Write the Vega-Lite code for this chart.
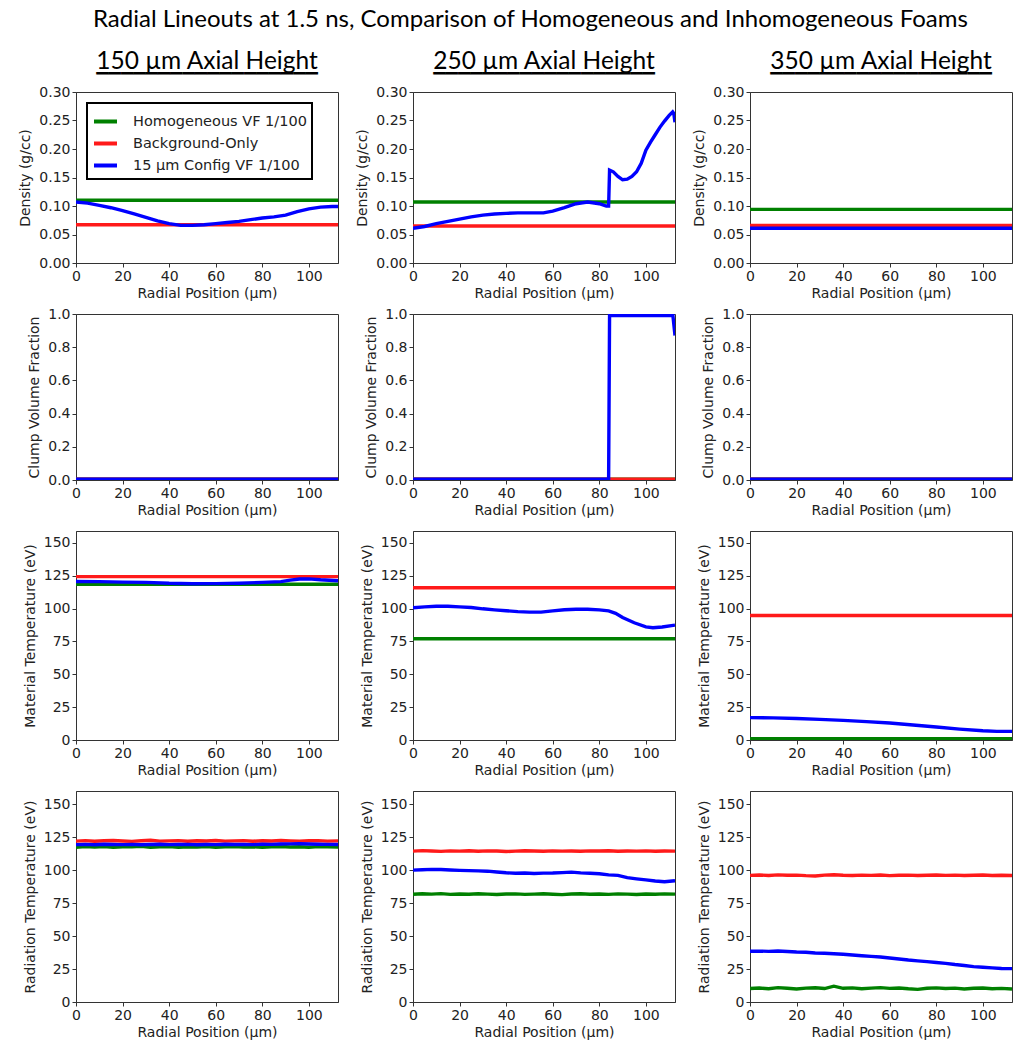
{
"$schema": "https://vega.github.io/schema/vega-lite/v6.json",
"background": "white",
"padding": {"left": 18, "top": 8, "right": 5, "bottom": 4},
"title": {"text": "Radial Lineouts at 1.5 ns, Comparison of Homogeneous and Inhomogeneous Foams", "font": "Lato", "fontSize": 24, "fontWeight": "normal", "color": "black", "anchor": "middle", "dx": 15, "offset": 16},
"data": {"values": [
{"h":150,"q":"rho","s":"G","x":0,"y":0.110},{"h":150,"q":"rho","s":"G","x":112.5,"y":0.110},
{"h":150,"q":"rho","s":"R","x":0,"y":0.067},{"h":150,"q":"rho","s":"R","x":112.5,"y":0.067},
{"h":150,"q":"rho","s":"B","x":0,"y":0.107},{"h":150,"q":"rho","s":"B","x":5,"y":0.105},{"h":150,"q":"rho","s":"B","x":10,"y":0.101},{"h":150,"q":"rho","s":"B","x":15,"y":0.097},{"h":150,"q":"rho","s":"B","x":20,"y":0.092},{"h":150,"q":"rho","s":"B","x":25,"y":0.086},{"h":150,"q":"rho","s":"B","x":30,"y":0.080},{"h":150,"q":"rho","s":"B","x":35,"y":0.074},{"h":150,"q":"rho","s":"B","x":40,"y":0.069},{"h":150,"q":"rho","s":"B","x":45,"y":0.066},{"h":150,"q":"rho","s":"B","x":50,"y":0.066},{"h":150,"q":"rho","s":"B","x":55,"y":0.067},{"h":150,"q":"rho","s":"B","x":60,"y":0.069},{"h":150,"q":"rho","s":"B","x":65,"y":0.071},{"h":150,"q":"rho","s":"B","x":70,"y":0.073},{"h":150,"q":"rho","s":"B","x":75,"y":0.076},{"h":150,"q":"rho","s":"B","x":80,"y":0.079},{"h":150,"q":"rho","s":"B","x":85,"y":0.081},{"h":150,"q":"rho","s":"B","x":90,"y":0.084},{"h":150,"q":"rho","s":"B","x":95,"y":0.090},{"h":150,"q":"rho","s":"B","x":100,"y":0.095},{"h":150,"q":"rho","s":"B","x":105,"y":0.098},{"h":150,"q":"rho","s":"B","x":110,"y":0.099},{"h":150,"q":"rho","s":"B","x":112.5,"y":0.099},

{"h":250,"q":"rho","s":"G","x":0,"y":0.107},{"h":250,"q":"rho","s":"G","x":112.5,"y":0.107},
{"h":250,"q":"rho","s":"R","x":0,"y":0.065},{"h":250,"q":"rho","s":"R","x":112.5,"y":0.065},
{"h":250,"q":"rho","s":"B","x":0,"y":0.061},{"h":250,"q":"rho","s":"B","x":5,"y":0.064},{"h":250,"q":"rho","s":"B","x":10,"y":0.069},{"h":250,"q":"rho","s":"B","x":15,"y":0.073},{"h":250,"q":"rho","s":"B","x":20,"y":0.077},{"h":250,"q":"rho","s":"B","x":25,"y":0.081},{"h":250,"q":"rho","s":"B","x":30,"y":0.084},{"h":250,"q":"rho","s":"B","x":35,"y":0.086},{"h":250,"q":"rho","s":"B","x":40,"y":0.087},{"h":250,"q":"rho","s":"B","x":45,"y":0.088},{"h":250,"q":"rho","s":"B","x":50,"y":0.088},{"h":250,"q":"rho","s":"B","x":56,"y":0.088},{"h":250,"q":"rho","s":"B","x":60,"y":0.091},{"h":250,"q":"rho","s":"B","x":65,"y":0.097},{"h":250,"q":"rho","s":"B","x":70,"y":0.104},{"h":250,"q":"rho","s":"B","x":75,"y":0.107},{"h":250,"q":"rho","s":"B","x":80,"y":0.104},{"h":250,"q":"rho","s":"B","x":83,"y":0.100},{"h":250,"q":"rho","s":"B","x":84,"y":0.100},{"h":250,"q":"rho","s":"B","x":84.4,"y":0.163},{"h":250,"q":"rho","s":"B","x":86,"y":0.160},{"h":250,"q":"rho","s":"B","x":88,"y":0.152},{"h":250,"q":"rho","s":"B","x":90,"y":0.146},{"h":250,"q":"rho","s":"B","x":92,"y":0.147},{"h":250,"q":"rho","s":"B","x":94,"y":0.152},{"h":250,"q":"rho","s":"B","x":96,"y":0.160},{"h":250,"q":"rho","s":"B","x":98,"y":0.175},{"h":250,"q":"rho","s":"B","x":100,"y":0.198},{"h":250,"q":"rho","s":"B","x":102,"y":0.212},{"h":250,"q":"rho","s":"B","x":104,"y":0.225},{"h":250,"q":"rho","s":"B","x":106,"y":0.238},{"h":250,"q":"rho","s":"B","x":108,"y":0.249},{"h":250,"q":"rho","s":"B","x":110,"y":0.259},{"h":250,"q":"rho","s":"B","x":111.5,"y":0.265},{"h":250,"q":"rho","s":"B","x":112,"y":0.262},{"h":250,"q":"rho","s":"B","x":112.5,"y":0.247},

{"h":350,"q":"rho","s":"G","x":0,"y":0.094},{"h":350,"q":"rho","s":"G","x":112.5,"y":0.094},
{"h":350,"q":"rho","s":"R","x":0,"y":0.066},{"h":350,"q":"rho","s":"R","x":112.5,"y":0.066},
{"h":350,"q":"rho","s":"B","x":0,"y":0.061},{"h":350,"q":"rho","s":"B","x":112.5,"y":0.061},

{"h":150,"q":"cvf","s":"G","x":0,"y":0.005},{"h":150,"q":"cvf","s":"G","x":112.5,"y":0.005},
{"h":150,"q":"cvf","s":"R","x":0,"y":0.005},{"h":150,"q":"cvf","s":"R","x":112.5,"y":0.005},
{"h":150,"q":"cvf","s":"B","x":0,"y":0.005},{"h":150,"q":"cvf","s":"B","x":112.5,"y":0.005},
{"h":250,"q":"cvf","s":"G","x":0,"y":0.005},{"h":250,"q":"cvf","s":"G","x":112.5,"y":0.005},
{"h":250,"q":"cvf","s":"R","x":0,"y":0.005},{"h":250,"q":"cvf","s":"R","x":112.5,"y":0.005},
{"h":250,"q":"cvf","s":"B","x":0,"y":0.005},{"h":250,"q":"cvf","s":"B","x":84,"y":0.005},{"h":250,"q":"cvf","s":"B","x":84.4,"y":0.99},{"h":250,"q":"cvf","s":"B","x":111.6,"y":0.99},{"h":250,"q":"cvf","s":"B","x":112.5,"y":0.87},
{"h":350,"q":"cvf","s":"G","x":0,"y":0.005},{"h":350,"q":"cvf","s":"G","x":112.5,"y":0.005},
{"h":350,"q":"cvf","s":"R","x":0,"y":0.005},{"h":350,"q":"cvf","s":"R","x":112.5,"y":0.005},
{"h":350,"q":"cvf","s":"B","x":0,"y":0.005},{"h":350,"q":"cvf","s":"B","x":112.5,"y":0.005},

{"h":150,"q":"tm","s":"G","x":0,"y":118.5},{"h":150,"q":"tm","s":"G","x":112.5,"y":118.5},
{"h":150,"q":"tm","s":"R","x":0,"y":124.3},{"h":150,"q":"tm","s":"R","x":112.5,"y":124.3},
{"h":150,"q":"tm","s":"B","x":0,"y":120.6},{"h":150,"q":"tm","s":"B","x":10,"y":120.5},{"h":150,"q":"tm","s":"B","x":20,"y":120.1},{"h":150,"q":"tm","s":"B","x":30,"y":119.9},{"h":150,"q":"tm","s":"B","x":40,"y":119.2},{"h":150,"q":"tm","s":"B","x":50,"y":118.9},{"h":150,"q":"tm","s":"B","x":60,"y":119.0},{"h":150,"q":"tm","s":"B","x":70,"y":119.3},{"h":150,"q":"tm","s":"B","x":80,"y":119.9},{"h":150,"q":"tm","s":"B","x":88,"y":120.5},{"h":150,"q":"tm","s":"B","x":92,"y":121.6},{"h":150,"q":"tm","s":"B","x":96,"y":122.5},{"h":150,"q":"tm","s":"B","x":100,"y":122.6},{"h":150,"q":"tm","s":"B","x":105,"y":121.9},{"h":150,"q":"tm","s":"B","x":112.5,"y":121.2},

{"h":250,"q":"tm","s":"G","x":0,"y":77},{"h":250,"q":"tm","s":"G","x":112.5,"y":77},
{"h":250,"q":"tm","s":"R","x":0,"y":115.8},{"h":250,"q":"tm","s":"R","x":112.5,"y":115.8},
{"h":250,"q":"tm","s":"B","x":0,"y":100.6},{"h":250,"q":"tm","s":"B","x":5,"y":101.3},{"h":250,"q":"tm","s":"B","x":10,"y":101.8},{"h":250,"q":"tm","s":"B","x":15,"y":101.7},{"h":250,"q":"tm","s":"B","x":20,"y":101.3},{"h":250,"q":"tm","s":"B","x":25,"y":100.8},{"h":250,"q":"tm","s":"B","x":30,"y":99.8},{"h":250,"q":"tm","s":"B","x":35,"y":99.0},{"h":250,"q":"tm","s":"B","x":40,"y":98.3},{"h":250,"q":"tm","s":"B","x":45,"y":97.7},{"h":250,"q":"tm","s":"B","x":50,"y":97.3},{"h":250,"q":"tm","s":"B","x":55,"y":97.3},{"h":250,"q":"tm","s":"B","x":60,"y":98.2},{"h":250,"q":"tm","s":"B","x":65,"y":99.1},{"h":250,"q":"tm","s":"B","x":70,"y":99.5},{"h":250,"q":"tm","s":"B","x":75,"y":99.5},{"h":250,"q":"tm","s":"B","x":80,"y":99.0},{"h":250,"q":"tm","s":"B","x":84,"y":98.2},{"h":250,"q":"tm","s":"B","x":87,"y":96.4},{"h":250,"q":"tm","s":"B","x":90,"y":93.2},{"h":250,"q":"tm","s":"B","x":95,"y":89.2},{"h":250,"q":"tm","s":"B","x":100,"y":86.1},{"h":250,"q":"tm","s":"B","x":103,"y":85.4},{"h":250,"q":"tm","s":"B","x":107,"y":86.0},{"h":250,"q":"tm","s":"B","x":112.5,"y":87.4},

{"h":350,"q":"tm","s":"G","x":0,"y":1},{"h":350,"q":"tm","s":"G","x":112.5,"y":1},
{"h":350,"q":"tm","s":"R","x":0,"y":94.7},{"h":350,"q":"tm","s":"R","x":112.5,"y":94.7},
{"h":350,"q":"tm","s":"B","x":0,"y":17.0},{"h":350,"q":"tm","s":"B","x":10,"y":16.8},{"h":350,"q":"tm","s":"B","x":20,"y":16.3},{"h":350,"q":"tm","s":"B","x":30,"y":15.7},{"h":350,"q":"tm","s":"B","x":40,"y":14.9},{"h":350,"q":"tm","s":"B","x":50,"y":14.0},{"h":350,"q":"tm","s":"B","x":60,"y":12.9},{"h":350,"q":"tm","s":"B","x":70,"y":11.4},{"h":350,"q":"tm","s":"B","x":80,"y":9.9},{"h":350,"q":"tm","s":"B","x":90,"y":8.3},{"h":350,"q":"tm","s":"B","x":100,"y":7.0},{"h":350,"q":"tm","s":"B","x":106,"y":6.6},{"h":350,"q":"tm","s":"B","x":112.5,"y":6.6},

{"h":150,"q":"tr","s":"G","x":0,"y":117.4},{"h":150,"q":"tr","s":"G","x":4,"y":117.8},{"h":150,"q":"tr","s":"G","x":8,"y":117.5},{"h":150,"q":"tr","s":"G","x":12,"y":117.9},{"h":150,"q":"tr","s":"G","x":16,"y":117.3},{"h":150,"q":"tr","s":"G","x":20,"y":117.7},{"h":150,"q":"tr","s":"G","x":24,"y":117.6},{"h":150,"q":"tr","s":"G","x":28,"y":118.0},{"h":150,"q":"tr","s":"G","x":32,"y":117.4},{"h":150,"q":"tr","s":"G","x":36,"y":117.6},{"h":150,"q":"tr","s":"G","x":40,"y":117.8},{"h":150,"q":"tr","s":"G","x":44,"y":117.3},{"h":150,"q":"tr","s":"G","x":48,"y":117.7},{"h":150,"q":"tr","s":"G","x":52,"y":117.5},{"h":150,"q":"tr","s":"G","x":56,"y":117.9},{"h":150,"q":"tr","s":"G","x":60,"y":117.4},{"h":150,"q":"tr","s":"G","x":64,"y":117.6},{"h":150,"q":"tr","s":"G","x":68,"y":117.8},{"h":150,"q":"tr","s":"G","x":72,"y":117.5},{"h":150,"q":"tr","s":"G","x":76,"y":117.7},{"h":150,"q":"tr","s":"G","x":80,"y":117.3},{"h":150,"q":"tr","s":"G","x":84,"y":117.6},{"h":150,"q":"tr","s":"G","x":88,"y":117.9},{"h":150,"q":"tr","s":"G","x":92,"y":117.5},{"h":150,"q":"tr","s":"G","x":96,"y":117.7},{"h":150,"q":"tr","s":"G","x":100,"y":117.4},{"h":150,"q":"tr","s":"G","x":104,"y":117.8},{"h":150,"q":"tr","s":"G","x":108,"y":117.6},{"h":150,"q":"tr","s":"G","x":112.5,"y":117.5},
{"h":150,"q":"tr","s":"R","x":0,"y":122.0},{"h":150,"q":"tr","s":"R","x":4,"y":122.4},{"h":150,"q":"tr","s":"R","x":8,"y":121.9},{"h":150,"q":"tr","s":"R","x":12,"y":122.3},{"h":150,"q":"tr","s":"R","x":16,"y":122.5},{"h":150,"q":"tr","s":"R","x":20,"y":122.1},{"h":150,"q":"tr","s":"R","x":24,"y":121.8},{"h":150,"q":"tr","s":"R","x":28,"y":122.3},{"h":150,"q":"tr","s":"R","x":32,"y":122.6},{"h":150,"q":"tr","s":"R","x":36,"y":122.0},{"h":150,"q":"tr","s":"R","x":40,"y":122.2},{"h":150,"q":"tr","s":"R","x":44,"y":122.4},{"h":150,"q":"tr","s":"R","x":48,"y":121.9},{"h":150,"q":"tr","s":"R","x":52,"y":122.3},{"h":150,"q":"tr","s":"R","x":56,"y":122.1},{"h":150,"q":"tr","s":"R","x":60,"y":122.5},{"h":150,"q":"tr","s":"R","x":64,"y":122.0},{"h":150,"q":"tr","s":"R","x":68,"y":122.2},{"h":150,"q":"tr","s":"R","x":72,"y":122.4},{"h":150,"q":"tr","s":"R","x":76,"y":121.9},{"h":150,"q":"tr","s":"R","x":80,"y":122.3},{"h":150,"q":"tr","s":"R","x":84,"y":122.1},{"h":150,"q":"tr","s":"R","x":88,"y":122.5},{"h":150,"q":"tr","s":"R","x":92,"y":122.2},{"h":150,"q":"tr","s":"R","x":96,"y":121.9},{"h":150,"q":"tr","s":"R","x":100,"y":122.3},{"h":150,"q":"tr","s":"R","x":104,"y":122.4},{"h":150,"q":"tr","s":"R","x":108,"y":122.0},{"h":150,"q":"tr","s":"R","x":112.5,"y":122.2},
{"h":150,"q":"tr","s":"B","x":0,"y":119.3},{"h":150,"q":"tr","s":"B","x":4,"y":119.5},{"h":150,"q":"tr","s":"B","x":8,"y":119.2},{"h":150,"q":"tr","s":"B","x":12,"y":119.6},{"h":150,"q":"tr","s":"B","x":16,"y":119.4},{"h":150,"q":"tr","s":"B","x":20,"y":119.3},{"h":150,"q":"tr","s":"B","x":24,"y":119.5},{"h":150,"q":"tr","s":"B","x":28,"y":119.2},{"h":150,"q":"tr","s":"B","x":32,"y":119.4},{"h":150,"q":"tr","s":"B","x":36,"y":119.6},{"h":150,"q":"tr","s":"B","x":40,"y":119.3},{"h":150,"q":"tr","s":"B","x":44,"y":119.4},{"h":150,"q":"tr","s":"B","x":48,"y":119.5},{"h":150,"q":"tr","s":"B","x":52,"y":119.2},{"h":150,"q":"tr","s":"B","x":56,"y":119.4},{"h":150,"q":"tr","s":"B","x":60,"y":119.3},{"h":150,"q":"tr","s":"B","x":64,"y":119.6},{"h":150,"q":"tr","s":"B","x":68,"y":119.4},{"h":150,"q":"tr","s":"B","x":72,"y":119.5},{"h":150,"q":"tr","s":"B","x":76,"y":119.3},{"h":150,"q":"tr","s":"B","x":80,"y":119.6},{"h":150,"q":"tr","s":"B","x":84,"y":119.5},{"h":150,"q":"tr","s":"B","x":88,"y":119.8},{"h":150,"q":"tr","s":"B","x":92,"y":119.9},{"h":150,"q":"tr","s":"B","x":96,"y":120.0},{"h":150,"q":"tr","s":"B","x":100,"y":119.8},{"h":150,"q":"tr","s":"B","x":104,"y":119.6},{"h":150,"q":"tr","s":"B","x":108,"y":119.5},{"h":150,"q":"tr","s":"B","x":112.5,"y":119.4},

{"h":250,"q":"tr","s":"G","x":0,"y":81.7},{"h":250,"q":"tr","s":"G","x":4,"y":82.1},{"h":250,"q":"tr","s":"G","x":8,"y":81.8},{"h":250,"q":"tr","s":"G","x":12,"y":82.2},{"h":250,"q":"tr","s":"G","x":16,"y":81.6},{"h":250,"q":"tr","s":"G","x":20,"y":81.9},{"h":250,"q":"tr","s":"G","x":24,"y":81.7},{"h":250,"q":"tr","s":"G","x":28,"y":82.1},{"h":250,"q":"tr","s":"G","x":32,"y":81.8},{"h":250,"q":"tr","s":"G","x":36,"y":81.5},{"h":250,"q":"tr","s":"G","x":40,"y":81.9},{"h":250,"q":"tr","s":"G","x":44,"y":82.0},{"h":250,"q":"tr","s":"G","x":48,"y":81.6},{"h":250,"q":"tr","s":"G","x":52,"y":81.8},{"h":250,"q":"tr","s":"G","x":56,"y":82.1},{"h":250,"q":"tr","s":"G","x":60,"y":81.7},{"h":250,"q":"tr","s":"G","x":64,"y":81.4},{"h":250,"q":"tr","s":"G","x":68,"y":81.9},{"h":250,"q":"tr","s":"G","x":72,"y":82.1},{"h":250,"q":"tr","s":"G","x":76,"y":81.7},{"h":250,"q":"tr","s":"G","x":80,"y":81.9},{"h":250,"q":"tr","s":"G","x":84,"y":81.6},{"h":250,"q":"tr","s":"G","x":88,"y":82.0},{"h":250,"q":"tr","s":"G","x":92,"y":81.8},{"h":250,"q":"tr","s":"G","x":96,"y":81.5},{"h":250,"q":"tr","s":"G","x":100,"y":81.9},{"h":250,"q":"tr","s":"G","x":104,"y":81.7},{"h":250,"q":"tr","s":"G","x":108,"y":82.0},{"h":250,"q":"tr","s":"G","x":112.5,"y":81.8},
{"h":250,"q":"tr","s":"R","x":0,"y":114.4},{"h":250,"q":"tr","s":"R","x":4,"y":114.8},{"h":250,"q":"tr","s":"R","x":8,"y":114.5},{"h":250,"q":"tr","s":"R","x":12,"y":114.2},{"h":250,"q":"tr","s":"R","x":16,"y":114.6},{"h":250,"q":"tr","s":"R","x":20,"y":114.4},{"h":250,"q":"tr","s":"R","x":24,"y":114.7},{"h":250,"q":"tr","s":"R","x":28,"y":114.3},{"h":250,"q":"tr","s":"R","x":32,"y":114.6},{"h":250,"q":"tr","s":"R","x":36,"y":114.5},{"h":250,"q":"tr","s":"R","x":40,"y":114.1},{"h":250,"q":"tr","s":"R","x":44,"y":114.4},{"h":250,"q":"tr","s":"R","x":48,"y":114.7},{"h":250,"q":"tr","s":"R","x":52,"y":114.5},{"h":250,"q":"tr","s":"R","x":56,"y":114.3},{"h":250,"q":"tr","s":"R","x":60,"y":114.6},{"h":250,"q":"tr","s":"R","x":64,"y":114.4},{"h":250,"q":"tr","s":"R","x":68,"y":114.5},{"h":250,"q":"tr","s":"R","x":72,"y":114.3},{"h":250,"q":"tr","s":"R","x":76,"y":114.6},{"h":250,"q":"tr","s":"R","x":80,"y":114.5},{"h":250,"q":"tr","s":"R","x":84,"y":114.7},{"h":250,"q":"tr","s":"R","x":88,"y":114.3},{"h":250,"q":"tr","s":"R","x":92,"y":114.5},{"h":250,"q":"tr","s":"R","x":96,"y":114.4},{"h":250,"q":"tr","s":"R","x":100,"y":114.6},{"h":250,"q":"tr","s":"R","x":104,"y":114.3},{"h":250,"q":"tr","s":"R","x":108,"y":114.5},{"h":250,"q":"tr","s":"R","x":112.5,"y":114.4},
{"h":250,"q":"tr","s":"B","x":0,"y":100.0},{"h":250,"q":"tr","s":"B","x":4,"y":100.3},{"h":250,"q":"tr","s":"B","x":8,"y":100.6},{"h":250,"q":"tr","s":"B","x":12,"y":100.5},{"h":250,"q":"tr","s":"B","x":16,"y":100.1},{"h":250,"q":"tr","s":"B","x":20,"y":99.8},{"h":250,"q":"tr","s":"B","x":24,"y":99.6},{"h":250,"q":"tr","s":"B","x":28,"y":99.4},{"h":250,"q":"tr","s":"B","x":32,"y":99.2},{"h":250,"q":"tr","s":"B","x":36,"y":98.6},{"h":250,"q":"tr","s":"B","x":40,"y":98.0},{"h":250,"q":"tr","s":"B","x":44,"y":97.6},{"h":250,"q":"tr","s":"B","x":48,"y":97.8},{"h":250,"q":"tr","s":"B","x":52,"y":97.4},{"h":250,"q":"tr","s":"B","x":56,"y":97.7},{"h":250,"q":"tr","s":"B","x":60,"y":97.8},{"h":250,"q":"tr","s":"B","x":64,"y":98.1},{"h":250,"q":"tr","s":"B","x":68,"y":98.5},{"h":250,"q":"tr","s":"B","x":72,"y":97.9},{"h":250,"q":"tr","s":"B","x":76,"y":97.6},{"h":250,"q":"tr","s":"B","x":80,"y":97.2},{"h":250,"q":"tr","s":"B","x":84,"y":96.4},{"h":250,"q":"tr","s":"B","x":88,"y":96.0},{"h":250,"q":"tr","s":"B","x":92,"y":94.3},{"h":250,"q":"tr","s":"B","x":96,"y":93.4},{"h":250,"q":"tr","s":"B","x":100,"y":92.6},{"h":250,"q":"tr","s":"B","x":104,"y":91.8},{"h":250,"q":"tr","s":"B","x":108,"y":91.2},{"h":250,"q":"tr","s":"B","x":112.5,"y":92.0},

{"h":350,"q":"tr","s":"G","x":0,"y":10.2},{"h":350,"q":"tr","s":"G","x":4,"y":10.6},{"h":350,"q":"tr","s":"G","x":8,"y":10.1},{"h":350,"q":"tr","s":"G","x":12,"y":10.9},{"h":350,"q":"tr","s":"G","x":16,"y":10.4},{"h":350,"q":"tr","s":"G","x":20,"y":9.9},{"h":350,"q":"tr","s":"G","x":24,"y":10.5},{"h":350,"q":"tr","s":"G","x":28,"y":10.8},{"h":350,"q":"tr","s":"G","x":32,"y":10.2},{"h":350,"q":"tr","s":"G","x":36,"y":12.0},{"h":350,"q":"tr","s":"G","x":40,"y":10.4},{"h":350,"q":"tr","s":"G","x":44,"y":10.7},{"h":350,"q":"tr","s":"G","x":48,"y":10.1},{"h":350,"q":"tr","s":"G","x":52,"y":10.5},{"h":350,"q":"tr","s":"G","x":56,"y":10.9},{"h":350,"q":"tr","s":"G","x":60,"y":10.3},{"h":350,"q":"tr","s":"G","x":64,"y":10.6},{"h":350,"q":"tr","s":"G","x":68,"y":10.0},{"h":350,"q":"tr","s":"G","x":72,"y":9.6},{"h":350,"q":"tr","s":"G","x":76,"y":10.4},{"h":350,"q":"tr","s":"G","x":80,"y":10.7},{"h":350,"q":"tr","s":"G","x":84,"y":10.2},{"h":350,"q":"tr","s":"G","x":88,"y":10.5},{"h":350,"q":"tr","s":"G","x":92,"y":9.9},{"h":350,"q":"tr","s":"G","x":96,"y":10.4},{"h":350,"q":"tr","s":"G","x":100,"y":10.6},{"h":350,"q":"tr","s":"G","x":104,"y":10.1},{"h":350,"q":"tr","s":"G","x":108,"y":10.3},{"h":350,"q":"tr","s":"G","x":112.5,"y":9.8},
{"h":350,"q":"tr","s":"R","x":0,"y":96.0},{"h":350,"q":"tr","s":"R","x":4,"y":96.3},{"h":350,"q":"tr","s":"R","x":8,"y":95.9},{"h":350,"q":"tr","s":"R","x":12,"y":96.4},{"h":350,"q":"tr","s":"R","x":16,"y":96.1},{"h":350,"q":"tr","s":"R","x":20,"y":96.2},{"h":350,"q":"tr","s":"R","x":24,"y":95.8},{"h":350,"q":"tr","s":"R","x":28,"y":95.6},{"h":350,"q":"tr","s":"R","x":32,"y":96.2},{"h":350,"q":"tr","s":"R","x":36,"y":96.5},{"h":350,"q":"tr","s":"R","x":40,"y":96.1},{"h":350,"q":"tr","s":"R","x":44,"y":95.9},{"h":350,"q":"tr","s":"R","x":48,"y":96.2},{"h":350,"q":"tr","s":"R","x":52,"y":96.0},{"h":350,"q":"tr","s":"R","x":56,"y":96.3},{"h":350,"q":"tr","s":"R","x":60,"y":95.8},{"h":350,"q":"tr","s":"R","x":64,"y":96.1},{"h":350,"q":"tr","s":"R","x":68,"y":96.2},{"h":350,"q":"tr","s":"R","x":72,"y":95.9},{"h":350,"q":"tr","s":"R","x":76,"y":96.1},{"h":350,"q":"tr","s":"R","x":80,"y":96.3},{"h":350,"q":"tr","s":"R","x":84,"y":96.0},{"h":350,"q":"tr","s":"R","x":88,"y":96.2},{"h":350,"q":"tr","s":"R","x":92,"y":95.9},{"h":350,"q":"tr","s":"R","x":96,"y":96.1},{"h":350,"q":"tr","s":"R","x":100,"y":96.3},{"h":350,"q":"tr","s":"R","x":104,"y":95.9},{"h":350,"q":"tr","s":"R","x":108,"y":96.1},{"h":350,"q":"tr","s":"R","x":112.5,"y":95.9},
{"h":350,"q":"tr","s":"B","x":0,"y":38.5},{"h":350,"q":"tr","s":"B","x":4,"y":38.6},{"h":350,"q":"tr","s":"B","x":8,"y":38.4},{"h":350,"q":"tr","s":"B","x":12,"y":38.7},{"h":350,"q":"tr","s":"B","x":16,"y":38.3},{"h":350,"q":"tr","s":"B","x":20,"y":37.9},{"h":350,"q":"tr","s":"B","x":24,"y":37.7},{"h":350,"q":"tr","s":"B","x":28,"y":37.2},{"h":350,"q":"tr","s":"B","x":32,"y":37.0},{"h":350,"q":"tr","s":"B","x":36,"y":36.6},{"h":350,"q":"tr","s":"B","x":40,"y":36.2},{"h":350,"q":"tr","s":"B","x":44,"y":35.6},{"h":350,"q":"tr","s":"B","x":48,"y":35.1},{"h":350,"q":"tr","s":"B","x":52,"y":34.6},{"h":350,"q":"tr","s":"B","x":56,"y":34.1},{"h":350,"q":"tr","s":"B","x":60,"y":33.4},{"h":350,"q":"tr","s":"B","x":64,"y":32.6},{"h":350,"q":"tr","s":"B","x":68,"y":31.8},{"h":350,"q":"tr","s":"B","x":72,"y":31.2},{"h":350,"q":"tr","s":"B","x":76,"y":30.6},{"h":350,"q":"tr","s":"B","x":80,"y":30.0},{"h":350,"q":"tr","s":"B","x":84,"y":29.3},{"h":350,"q":"tr","s":"B","x":88,"y":28.4},{"h":350,"q":"tr","s":"B","x":92,"y":27.7},{"h":350,"q":"tr","s":"B","x":96,"y":26.8},{"h":350,"q":"tr","s":"B","x":100,"y":26.3},{"h":350,"q":"tr","s":"B","x":104,"y":25.9},{"h":350,"q":"tr","s":"B","x":108,"y":25.4},{"h":350,"q":"tr","s":"B","x":112.5,"y":25.3}
]},
"columns": 3,
"bounds": "flush",
"spacing": {"row": 51, "column": 75},
"resolve": {"scale": {"x": "independent", "y": "independent", "color": "shared"}, "legend": {"color": "independent"}},
"concat": [
{"width": 262, "height": 171,
 "title": {"text": "150 µm Axial Height", "subtitle": "▔▔▔▔▔▔▔▔▔▔▔▔▔▔▔▔▔▔", "font": "Lato", "fontSize": 24.5, "fontWeight": "normal", "color": "black", "subtitleFont": "DejaVu Sans", "subtitleFontSize": 16, "subtitleColor": "black", "subtitlePadding": 0, "anchor": "middle", "frame": "group", "offset": -6},
 "transform": [{"filter": "datum.q == 'rho' && datum.h == 150"}],
 "mark": {"type": "line", "strokeWidth": 3.4, "clip": true},
 "encoding": {
  "x": {"field": "x", "type": "quantitative", "scale": {"domain": [0, 112.5], "nice": false}, "axis": {"values": [0,20,40,60,80,100], "title": "Radial Position (µm)"}},
  "y": {"field": "y", "type": "quantitative", "scale": {"domain": [0, 0.3], "nice": false}, "axis": {"values": [0,0.05,0.1,0.15,0.2,0.25,0.3], "format": ".2f", "title": "Density (g/cc)"}},
  "color": {"field": "s", "type": "nominal", "scale": {"domain": ["G","R","B"], "range": ["#008000","#ff1a1a","#0000ff"]},
   "legend": {"orient": "top-left", "offset": 11, "title": null, "labelExpr": "datum.label == 'G' ? 'Homogeneous VF 1/100' : datum.label == 'R' ? 'Background-Only' : '15 µm Config VF 1/100'", "labelLimit": 400, "symbolType": "stroke", "symbolStrokeWidth": 4, "symbolSize": 529, "labelFont": "DejaVu Sans", "labelFontSize": 14.5, "labelColor": "#222", "strokeColor": "black", "fillColor": "white", "padding": 5, "rowPadding": 0, "cornerRadius": 0, "labelOffset": 14}}
 }},
{"width": 262, "height": 171,
 "title": {"text": "250 µm Axial Height", "subtitle": "▔▔▔▔▔▔▔▔▔▔▔▔▔▔▔▔▔▔", "font": "Lato", "fontSize": 24.5, "fontWeight": "normal", "color": "black", "subtitleFont": "DejaVu Sans", "subtitleFontSize": 16, "subtitleColor": "black", "subtitlePadding": 0, "anchor": "middle", "frame": "group", "offset": -6},
 "transform": [{"filter": "datum.q == 'rho' && datum.h == 250"}],
 "mark": {"type": "line", "strokeWidth": 3.4, "clip": true},
 "encoding": {
  "x": {"field": "x", "type": "quantitative", "scale": {"domain": [0, 112.5], "nice": false}, "axis": {"values": [0,20,40,60,80,100], "title": "Radial Position (µm)"}},
  "y": {"field": "y", "type": "quantitative", "scale": {"domain": [0, 0.3], "nice": false}, "axis": {"values": [0,0.05,0.1,0.15,0.2,0.25,0.3], "format": ".2f", "title": "Density (g/cc)"}},
  "color": {"field": "s", "type": "nominal", "scale": {"domain": ["G","R","B"], "range": ["#008000","#ff1a1a","#0000ff"]}, "legend": null}
 }},
{"width": 262, "height": 171,
 "title": {"text": "350 µm Axial Height", "subtitle": "▔▔▔▔▔▔▔▔▔▔▔▔▔▔▔▔▔▔", "font": "Lato", "fontSize": 24.5, "fontWeight": "normal", "color": "black", "subtitleFont": "DejaVu Sans", "subtitleFontSize": 16, "subtitleColor": "black", "subtitlePadding": 0, "anchor": "middle", "frame": "group", "offset": -6},
 "transform": [{"filter": "datum.q == 'rho' && datum.h == 350"}],
 "mark": {"type": "line", "strokeWidth": 3.4, "clip": true},
 "encoding": {
  "x": {"field": "x", "type": "quantitative", "scale": {"domain": [0, 112.5], "nice": false}, "axis": {"values": [0,20,40,60,80,100], "title": "Radial Position (µm)"}},
  "y": {"field": "y", "type": "quantitative", "scale": {"domain": [0, 0.3], "nice": false}, "axis": {"values": [0,0.05,0.1,0.15,0.2,0.25,0.3], "format": ".2f", "title": "Density (g/cc)"}},
  "color": {"field": "s", "type": "nominal", "scale": {"domain": ["G","R","B"], "range": ["#008000","#ff1a1a","#0000ff"]}, "legend": null}
 }},
{"width": 262, "height": 166,
 "transform": [{"filter": "datum.q == 'cvf' && datum.h == 150"}],
 "mark": {"type": "line", "strokeWidth": 3.4, "clip": true},
 "encoding": {
  "x": {"field": "x", "type": "quantitative", "scale": {"domain": [0, 112.5], "nice": false}, "axis": {"values": [0,20,40,60,80,100], "title": "Radial Position (µm)"}},
  "y": {"field": "y", "type": "quantitative", "scale": {"domain": [0, 1], "nice": false}, "axis": {"values": [0,0.2,0.4,0.6,0.8,1], "format": ".1f", "title": "Clump Volume Fraction"}},
  "color": {"field": "s", "type": "nominal", "scale": {"domain": ["G","R","B"], "range": ["#008000","#ff1a1a","#0000ff"]}, "legend": null}
 }},
{"width": 262, "height": 166,
 "transform": [{"filter": "datum.q == 'cvf' && datum.h == 250"}],
 "mark": {"type": "line", "strokeWidth": 3.4, "clip": true},
 "encoding": {
  "x": {"field": "x", "type": "quantitative", "scale": {"domain": [0, 112.5], "nice": false}, "axis": {"values": [0,20,40,60,80,100], "title": "Radial Position (µm)"}},
  "y": {"field": "y", "type": "quantitative", "scale": {"domain": [0, 1], "nice": false}, "axis": {"values": [0,0.2,0.4,0.6,0.8,1], "format": ".1f", "title": "Clump Volume Fraction"}},
  "color": {"field": "s", "type": "nominal", "scale": {"domain": ["G","R","B"], "range": ["#008000","#ff1a1a","#0000ff"]}, "legend": null}
 }},
{"width": 262, "height": 166,
 "transform": [{"filter": "datum.q == 'cvf' && datum.h == 350"}],
 "mark": {"type": "line", "strokeWidth": 3.4, "clip": true},
 "encoding": {
  "x": {"field": "x", "type": "quantitative", "scale": {"domain": [0, 112.5], "nice": false}, "axis": {"values": [0,20,40,60,80,100], "title": "Radial Position (µm)"}},
  "y": {"field": "y", "type": "quantitative", "scale": {"domain": [0, 1], "nice": false}, "axis": {"values": [0,0.2,0.4,0.6,0.8,1], "format": ".1f", "title": "Clump Volume Fraction"}},
  "color": {"field": "s", "type": "nominal", "scale": {"domain": ["G","R","B"], "range": ["#008000","#ff1a1a","#0000ff"]}, "legend": null}
 }},
{"width": 262, "height": 209,
 "transform": [{"filter": "datum.q == 'tm' && datum.h == 150"}],
 "mark": {"type": "line", "strokeWidth": 3.4, "clip": true},
 "encoding": {
  "x": {"field": "x", "type": "quantitative", "scale": {"domain": [0, 112.5], "nice": false}, "axis": {"values": [0,20,40,60,80,100], "title": "Radial Position (µm)"}},
  "y": {"field": "y", "type": "quantitative", "scale": {"domain": [0, 159], "nice": false}, "axis": {"values": [0,25,50,75,100,125,150], "title": "Material Temperature (eV)"}},
  "color": {"field": "s", "type": "nominal", "scale": {"domain": ["G","R","B"], "range": ["#008000","#ff1a1a","#0000ff"]}, "legend": null}
 }},
{"width": 262, "height": 209,
 "transform": [{"filter": "datum.q == 'tm' && datum.h == 250"}],
 "mark": {"type": "line", "strokeWidth": 3.4, "clip": true},
 "encoding": {
  "x": {"field": "x", "type": "quantitative", "scale": {"domain": [0, 112.5], "nice": false}, "axis": {"values": [0,20,40,60,80,100], "title": "Radial Position (µm)"}},
  "y": {"field": "y", "type": "quantitative", "scale": {"domain": [0, 159], "nice": false}, "axis": {"values": [0,25,50,75,100,125,150], "title": "Material Temperature (eV)"}},
  "color": {"field": "s", "type": "nominal", "scale": {"domain": ["G","R","B"], "range": ["#008000","#ff1a1a","#0000ff"]}, "legend": null}
 }},
{"width": 262, "height": 209,
 "transform": [{"filter": "datum.q == 'tm' && datum.h == 350"}],
 "mark": {"type": "line", "strokeWidth": 3.4, "clip": true},
 "encoding": {
  "x": {"field": "x", "type": "quantitative", "scale": {"domain": [0, 112.5], "nice": false}, "axis": {"values": [0,20,40,60,80,100], "title": "Radial Position (µm)"}},
  "y": {"field": "y", "type": "quantitative", "scale": {"domain": [0, 159], "nice": false}, "axis": {"values": [0,25,50,75,100,125,150], "title": "Material Temperature (eV)"}},
  "color": {"field": "s", "type": "nominal", "scale": {"domain": ["G","R","B"], "range": ["#008000","#ff1a1a","#0000ff"]}, "legend": null}
 }},
{"width": 262, "height": 211,
 "transform": [{"filter": "datum.q == 'tr' && datum.h == 150"}],
 "mark": {"type": "line", "strokeWidth": 3.4, "clip": true},
 "encoding": {
  "x": {"field": "x", "type": "quantitative", "scale": {"domain": [0, 112.5], "nice": false}, "axis": {"values": [0,20,40,60,80,100], "title": "Radial Position (µm)"}},
  "y": {"field": "y", "type": "quantitative", "scale": {"domain": [0, 160], "nice": false}, "axis": {"values": [0,25,50,75,100,125,150], "title": "Radiation Temperature (eV)"}},
  "color": {"field": "s", "type": "nominal", "scale": {"domain": ["G","R","B"], "range": ["#008000","#ff1a1a","#0000ff"]}, "legend": null}
 }},
{"width": 262, "height": 211,
 "transform": [{"filter": "datum.q == 'tr' && datum.h == 250"}],
 "mark": {"type": "line", "strokeWidth": 3.4, "clip": true},
 "encoding": {
  "x": {"field": "x", "type": "quantitative", "scale": {"domain": [0, 112.5], "nice": false}, "axis": {"values": [0,20,40,60,80,100], "title": "Radial Position (µm)"}},
  "y": {"field": "y", "type": "quantitative", "scale": {"domain": [0, 160], "nice": false}, "axis": {"values": [0,25,50,75,100,125,150], "title": "Radiation Temperature (eV)"}},
  "color": {"field": "s", "type": "nominal", "scale": {"domain": ["G","R","B"], "range": ["#008000","#ff1a1a","#0000ff"]}, "legend": null}
 }},
{"width": 262, "height": 211,
 "transform": [{"filter": "datum.q == 'tr' && datum.h == 350"}],
 "mark": {"type": "line", "strokeWidth": 3.4, "clip": true},
 "encoding": {
  "x": {"field": "x", "type": "quantitative", "scale": {"domain": [0, 112.5], "nice": false}, "axis": {"values": [0,20,40,60,80,100], "title": "Radial Position (µm)"}},
  "y": {"field": "y", "type": "quantitative", "scale": {"domain": [0, 160], "nice": false}, "axis": {"values": [0,25,50,75,100,125,150], "title": "Radiation Temperature (eV)"}},
  "color": {"field": "s", "type": "nominal", "scale": {"domain": ["G","R","B"], "range": ["#008000","#ff1a1a","#0000ff"]}, "legend": null}
 }}
],
"config": {
 "font": "DejaVu Sans",
 "view": {"stroke": "#333", "strokeWidth": 1},
 "axis": {"labelFont": "DejaVu Sans", "labelFontSize": 14, "labelColor": "#222", "titleFont": "DejaVu Sans", "titleFontSize": 14, "titleFontWeight": "normal", "titleColor": "#222", "domainColor": "#333", "tickColor": "#333", "tickSize": 4, "labelPadding": 2, "grid": false},
 "axisX": {"titlePadding": 3, "labelFlush": false},
 "axisY": {"titlePadding": 6},
 "legend": {"strokeWidth": 2}
}
}
